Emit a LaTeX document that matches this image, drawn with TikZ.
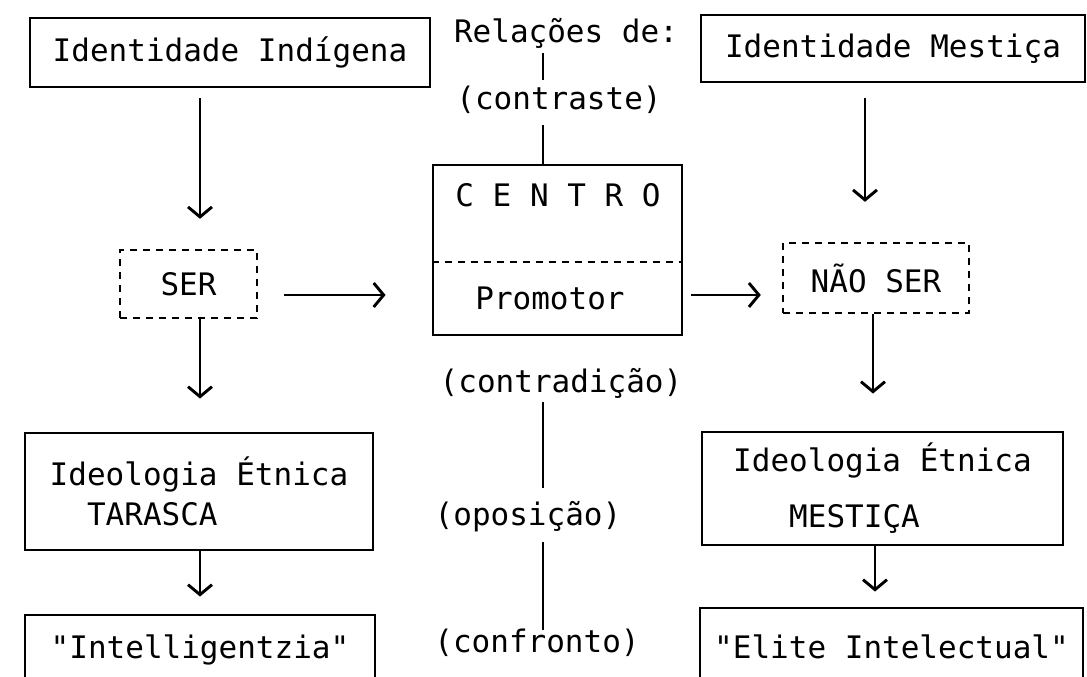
\documentclass[tikz,border=0pt]{standalone}
\usepackage{fontspec}
\newfontfamily\tw{DejaVu Sans Mono}
\usetikzlibrary{arrows.meta,calc}
\begin{document}
\begin{tikzpicture}[x=1pt,y=-1pt,
  every node/.style={font=\tw\fontsize{31}{40}\selectfont, inner sep=0pt},
  box/.style={draw, line width=2.9pt},
  dbox/.style={draw, line width=2.4pt, dash pattern=on 7pt off 6pt},
  arr/.style={line width=2.9pt, -{Straight Barb[length=10pt,width=24pt]}},
  link/.style={line width=2.9pt}]
\useasboundingbox (0,0) rectangle (1087,677);
\clip (0,0) rectangle (1087,677);
% column coordinates
\coordinate (colL) at (200,0);
\coordinate (colM) at (543,0);
\coordinate (rowP) at (0,295);
% left column
\node[box, minimum width=400pt, minimum height=69pt] (idind) at (230,52.5) {Identidade Indígena};
\node[dbox, minimum width=137pt, minimum height=68pt] (ser) at (188.5,284) {SER};
\node[box, minimum width=348pt, minimum height=117pt, align=left] (ideotar) at (199,491.5) {Ideologia Étnica\\\hphantom{II}TARASCA};
\node[box, minimum width=350pt, minimum height=70pt] (intel) at (200,650) {"Intelligentzia"};
% middle column
\node (relac) at (566,33) {Relações de:};
\node (contraste) at (559,100) {(contraste)};
\node[box, minimum width=249pt, minimum height=170pt] (centro) at (557.5,250) {};
\node (centrolbl) at (558,195) {C E N T R O};
\node (promotor) at (550,298) {Promotor};
\node (contradicao) at (561,383) {(contradição)};
\node (oposicao) at (528,517) {(oposição)};
\node (confronto) at (537,643) {(confronto)};
% right column
\node[box, minimum width=384pt, minimum height=67pt] (idmes) at (893,48.5) {Identidade Mestiça};
\node[dbox, minimum width=186pt, minimum height=70pt] (naoser) at (876,278) {NÃO SER};
\node[box, minimum width=361pt, minimum height=113pt, align=left] (ideomes) at (882.5,488.5) {Ideologia Étnica\\[16pt]\hphantom{III}MESTIÇA};
\node[box, minimum width=383pt, minimum height=77pt] (elite) at (891.5,646.5) {"Elite Intelectual"};
% divider in CENTRO
\draw[line width=2.4pt, dash pattern=on 7pt off 6pt] (centro.west |- 0,262) -- (centro.east |- 0,262);
% left arrows
\draw[arr] ($(idind.south -| colL)+(0,10)$) -- ($(ser.north -| colL)+(0,-30)$);
\draw[arr] (ser.south -| colL) -- ($(ideotar.north -| colL)+(0,-33)$);
\draw[arr] (ideotar.south -| colL) -- ($(intel.north -| colL)+(0,-17)$);
% horizontal arrows
\draw[arr] ($(ser.east |- rowP)+(26,0)$) -- ($(centro.west |- rowP)+(-46,0)$);
\draw[arr] ($(centro.east |- rowP)+(8,0)$) -- ($(naoser.west |- rowP)+(-21,0)$);
% right arrows
\draw[arr] ($(idmes.south)+(-28,15)$) -- ($(naoser.north -| idmes.south)+(-28,-40)$);
\draw[arr] (naoser.south -| 873,0) -- ($(ideomes.north -| 873,0)+(0,-37)$);
\draw[arr] (ideomes.south -| 875,0) -- ($(elite.north -| 875,0)+(0,-15)$);
% middle links
\draw[link] ($(relac.center -| colM)+(0,20)$) -- ($(contraste.center -| colM)+(0,-20)$);
\draw[link] ($(contraste.center -| colM)+(0,25)$) -- (centro.north -| colM);
\draw[link] ($(contradicao.center -| colM)+(0,19)$) -- ($(oposicao.center -| colM)+(0,-29)$);
\draw[link] ($(oposicao.center -| colM)+(0,25)$) -- ($(confronto.center -| colM)+(0,-13)$);
\end{tikzpicture}
\end{document}
